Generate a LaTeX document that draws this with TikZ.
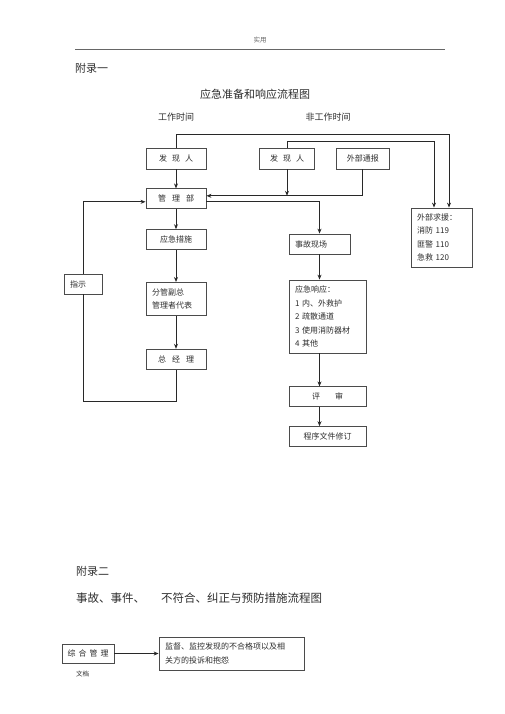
\documentclass[tikz,border=0pt]{standalone}
\usepackage{fontspec}
\setmainfont{Noto Sans CJK SC}
\usetikzlibrary{arrows.meta, positioning, calc}
\definecolor{flowline}{RGB}{40, 40, 40}
\definecolor{flowbox}{RGB}{75, 75, 75}
\definecolor{flowtext}{RGB}{45, 45, 45}

\begin{document}
\begin{tikzpicture}[
    x=1pt, y=-1pt,
    box/.style={draw=flowbox, line width=0.8pt, minimum width=60pt, minimum height=20pt, inner sep=0pt, text=flowtext, font=\fontsize{8}{13.5}\selectfont},
    lbox/.style={box, align=left, inner xsep=6pt, inner ysep=0pt},
    arr/.style={-{Stealth[length=5pt, width=4pt]}, line width=1pt, flowline},
    ln/.style={line width=1pt, flowline},
    hd/.style={text=flowtext, font=\fontsize{11}{13}\selectfont}
  ]
    \useasboundingbox (0,0) rectangle (505,714);

    \node[text=black!60, font=\fontsize{6.5}{8}\selectfont] (hdr) at (260,40) {实用};
    \draw[black!60, line width=0.7pt] (75,49) -- (445,49);
    \node[hd, anchor=west, inner sep=0pt] (fl1) at (75,68) {附录一};
    \node[hd] (tt1) at (255,94) {应急准备和响应流程图};
    \node[text=flowtext, font=\fontsize{9}{11}\selectfont] (gzsj) at (176,117) {工作时间};
    \node[text=flowtext, font=\fontsize{9}{11}\selectfont] (fgsj) at (328,117) {非工作时间};

    \node[box, minimum height=21pt] (fx1) at (176,158.5) {发\hspace{5pt}现\hspace{5pt}人};
    \node[box, below=19pt of fx1] (glb) {管\hspace{6pt}理\hspace{6pt}部};
    \node[box, below=20pt of glb] (yjcs) {应急措施};
    \node[lbox, text width=48pt, minimum height=33pt, below=32pt of yjcs] (fgfz) {分管副总\\管理者代表};
    \node[box, below=33pt of fgfz] (zjl) {总\hspace{6pt}经\hspace{6pt}理};
    \node[lbox, text width=26pt, minimum width=38pt] (zs) at (83,284) {指示};

    \node[box, minimum width=55pt, minimum height=21pt] (fx2) at (287,158.5) {发\hspace{5pt}现\hspace{5pt}人};
    \node[box, minimum width=53pt, minimum height=21pt, right=21pt of fx2] (wbtb) {外部通报};
    \node[lbox, text width=49pt, minimum height=59pt] (wbqy) at (441.5,237.5) {外部求援：\\消防 119\\匪警 110\\急救 120};

    \node[lbox, text width=49pt] (sgxc) at (319.5,244) {事故现场};
    \node[lbox, text width=65pt, minimum height=73pt] (xyjy) at (327.5,316.5) {应急响应：\\1 内、外救护\\2 疏散通道\\3 使用消防器材\\4 其他};
    \node[box, minimum width=77pt, below=33pt of xyjy] (ps) {评\hspace{15pt}审};
    \node[box, minimum width=77pt, below=19pt of ps] (xd) {程序文件修订};

    \draw[arr] (fx1.north) -- ++(0,-13.5) -| ([xshift=7.5pt]wbqy.north);
    \draw[arr] (fx2.north) -- ++(0,-6.5) -| ([xshift=-7.5pt]wbqy.north);
    \draw[arr] (fx1) -- (glb);
    \coordinate (gin) at ([yshift=3pt]glb.east);
    \draw[arr] (wbtb.south) |- (gin);
    \draw[arr] (fx2.south) -- (fx2.south |- gin);
    \draw[arr] ([yshift=-3pt]glb.east) -| (sgxc.north);
    \draw[arr] (glb) -- (yjcs);
    \draw[arr] (yjcs) -- (fgfz);
    \draw[arr] (fgfz) -- (zjl);
    \draw[ln] (zjl.south) -- ++(0,32) -| (zs.south);
    \draw[arr] (zs.north) |- ([yshift=-3pt]glb.west);
    \draw[arr] (sgxc.south) -- (sgxc.south |- xyjy.north);
    \draw[arr] (sgxc.south |- xyjy.south) -- (sgxc.south |- ps.north);
    \draw[arr] (sgxc.south |- ps.south) -- (sgxc.south |- xd.north);

    \node[hd, anchor=west, inner sep=0pt] (fl2) at (76,571) {附录二};
    \node[text=flowtext, anchor=west, inner sep=0pt, font=\fontsize{11.5}{14}\selectfont] (tt2) at (76,598) {事故、事件、\hspace{16pt}不符合、纠正与预防措施流程图};
    \node[box, minimum width=52pt, minimum height=19pt] (zhgl) at (88,653.5) {综\hspace{3pt}合\hspace{3pt}管\hspace{3pt}理};
    \node[lbox, text width=133pt, minimum height=33pt] (jdjk) at (231.5,653.5) {监督、监控发现的不合格项以及相\\关方的投诉和抱怨};
    \draw[arr] (zhgl) -- (jdjk);
    \node[text=flowtext, anchor=west, inner sep=0pt, font=\fontsize{6.5}{8}\selectfont] (wd) at (76,674) {文档};
\end{tikzpicture}
\end{document}
